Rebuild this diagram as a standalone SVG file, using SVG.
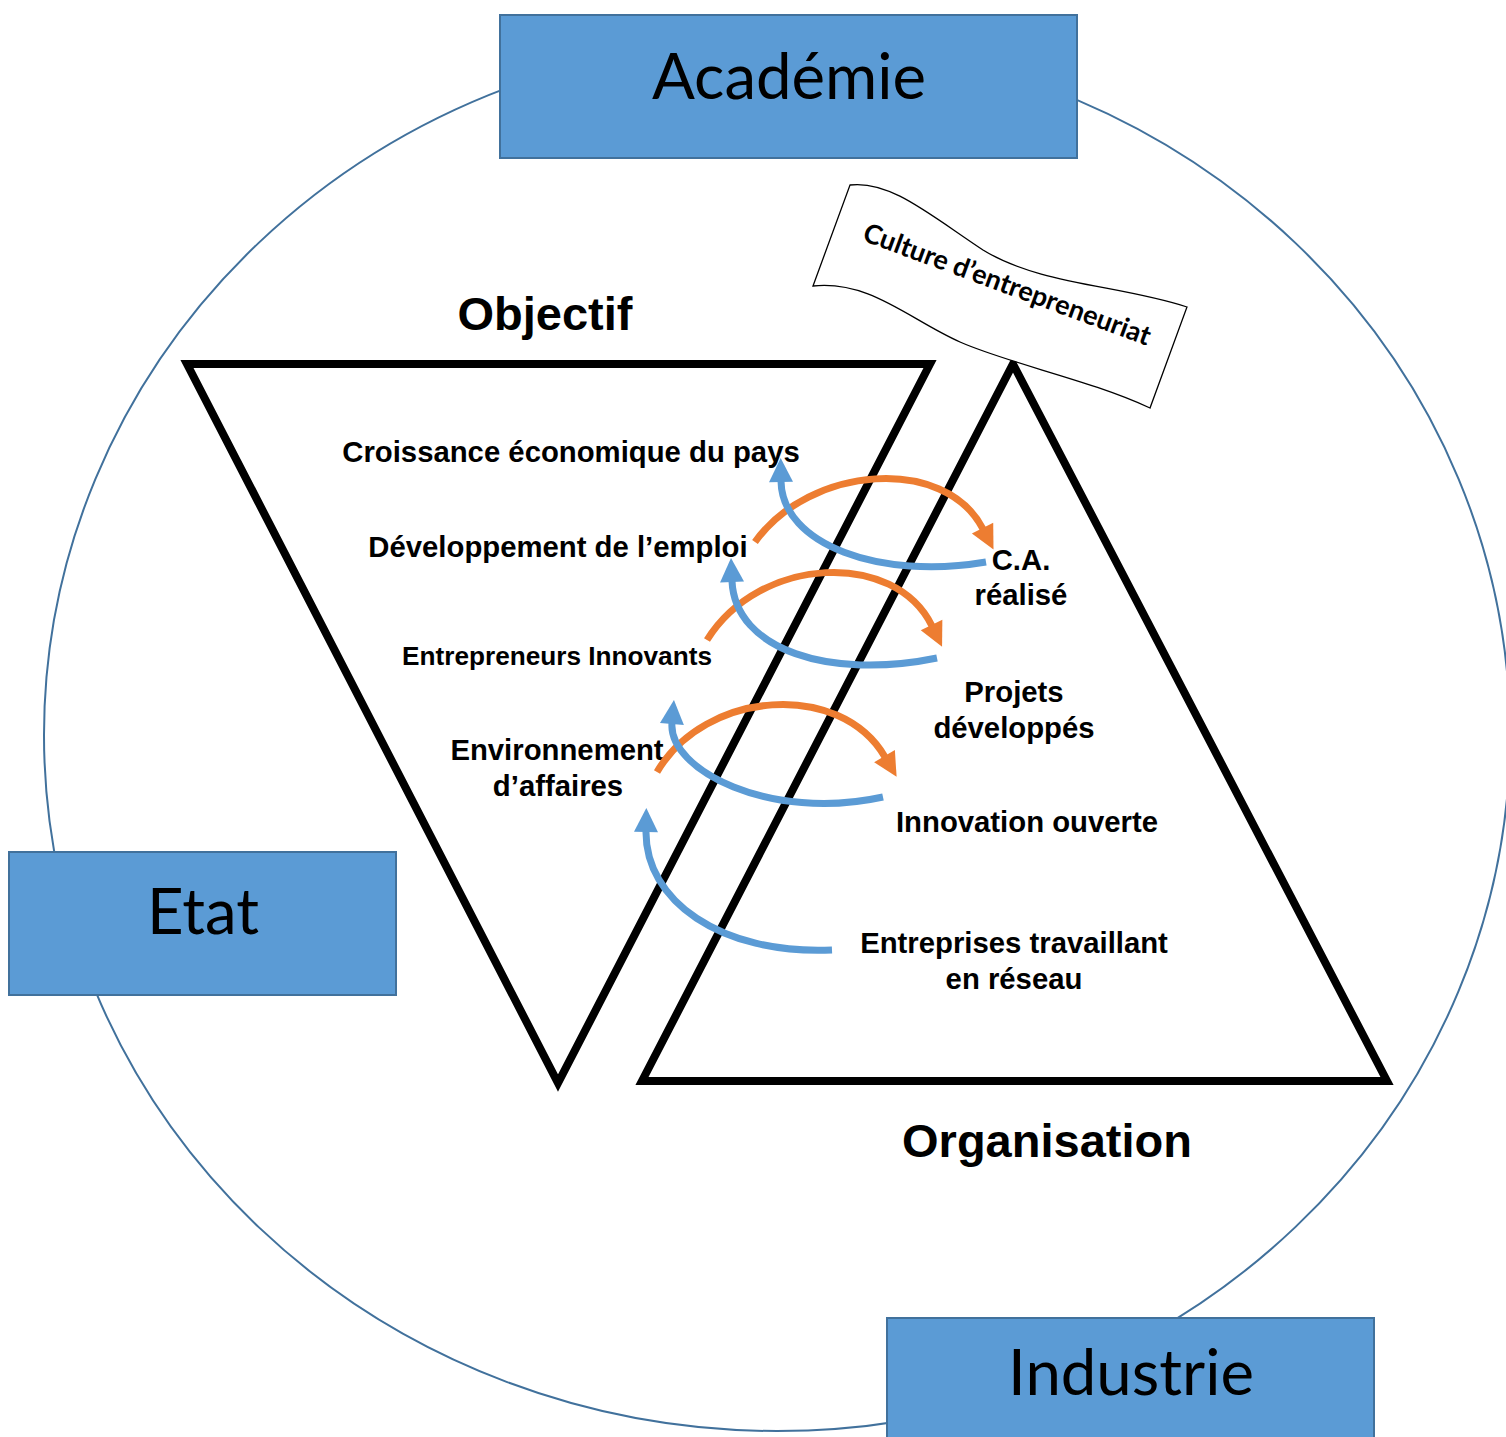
<svg xmlns="http://www.w3.org/2000/svg" width="1506" height="1437" viewBox="0 0 1506 1437">
<style>
.box{fill:#5B9BD5;stroke:#41719C;stroke-width:2}
.big{font-family:Lato,"Liberation Sans",sans-serif;font-size:63.5px;fill:#000;text-anchor:middle}
.tri{fill:none;stroke:#000;stroke-width:8;stroke-linejoin:miter;stroke-miterlimit:10}
.lbl{font-family:"Liberation Sans",Arial,sans-serif;font-weight:bold;font-size:29.3px;fill:#000;text-anchor:middle}
.title{font-family:"Liberation Sans",Arial,sans-serif;font-weight:bold;font-size:47px;fill:#000;text-anchor:middle}
.or{fill:none;stroke:#ED7D31;stroke-width:7;marker-end:url(#ho)}
.bl{fill:none;stroke:#5B9BD5;stroke-width:7;marker-end:url(#hb)}
</style>
<defs>
<marker id="ho" markerUnits="userSpaceOnUse" viewBox="0 -13 26 26" refX="0" refY="0" markerWidth="26" markerHeight="26" orient="auto" overflow="visible">
<path d="M-1,-12 L23,0 L-1,12 z" fill="#ED7D31"/>
</marker>
<marker id="hb" markerUnits="userSpaceOnUse" viewBox="0 -13 26 26" refX="0" refY="0" markerWidth="26" markerHeight="26" orient="auto" overflow="visible">
<path d="M-1,-12 L23,0 L-1,12 z" fill="#5B9BD5"/>
</marker>
</defs>
<rect width="1506" height="1437" fill="#fff"/>
<g id="ring">
<ellipse cx="777" cy="735" rx="733" ry="696" fill="none" stroke="#41719C" stroke-width="2"/>
</g>
<g id="academie">
<rect class="box" x="500" y="15" width="577" height="143"/>
<text class="big" x="789" y="99">Académie</text>
</g>
<g id="etat">
<rect class="box" x="9" y="852" width="387" height="143"/>
<text class="big" x="203" y="934">Etat</text>
</g>
<g id="industrie">
<rect class="box" x="887" y="1318" width="487" height="143"/>
<text class="big" x="1131" y="1395">Industrie</text>
</g>
<g id="objectif">
<polygon class="tri" points="187,364 930,364 558,1083"/>
<text class="title" x="545" y="330">Objectif</text>
</g>
<g id="organisation">
<polygon class="tri" points="1013,364 1387,1081 642,1081"/>
<text class="title" x="1047" y="1157">Organisation</text>
</g>
<g id="culture">
<path d="M850,185 C890,180 930,215 983,250 C1040,285 1120,285 1187,307 L1150,408 C1090,380 1010,364 960,342 C910,320 870,280 813,286 Z" fill="#fff" stroke="#000" stroke-width="1.3"/>
<text x="1004" y="293" transform="rotate(20.3 1004 293)" style="font-family:Lato,'Liberation Sans',sans-serif;font-weight:bold;font-size:27px;text-anchor:middle">Culture d’entrepreneuriat</text>
</g>
<g id="labels">
<text class="lbl" x="571" y="462">Croissance économique du pays</text>
<text class="lbl" x="558" y="557">Développement de l’emploi</text>
<text class="lbl" x="557" y="665" style="font-size:26.2px">Entrepreneurs Innovants</text>
<text class="lbl" x="557" y="760">Environnement</text>
<text class="lbl" x="558" y="796">d’affaires</text>
<text class="lbl" x="1021" y="570">C.A.</text>
<text class="lbl" x="1021" y="605">réalisé</text>
<text class="lbl" x="1014" y="702">Projets</text>
<text class="lbl" x="1014" y="738">développés</text>
<text class="lbl" x="1027" y="832">Innovation ouverte</text>
<text class="lbl" x="1014" y="953">Entreprises travaillant</text>
<text class="lbl" x="1014" y="989">en réseau</text>
</g>
<g id="connectors">
<path class="or" d="M755,542 C810,465 945,455 983,529"/>
<path class="or" d="M707,640 C760,555 895,550 932,626"/>
<path class="or" d="M657,772 C705,690 840,680 885,757"/>
<path class="bl" d="M986,562 C880,580 782,545 781,481"/>
<path class="bl" d="M937,658 C830,680 735,650 732,581"/>
<path class="bl" d="M883,797 C770,822 668,770 672,723"/>
<path class="bl" d="M832,950 C720,955 645,900 646,831"/>
</g>
</svg>
